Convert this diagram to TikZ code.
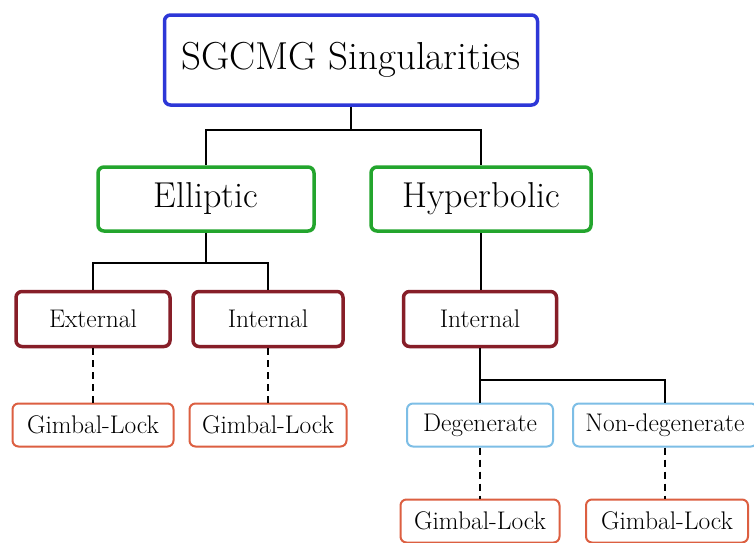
\documentclass[tikz,border=0pt]{standalone}
\usepackage{tikz}
\usetikzlibrary{calc}
\definecolor{rootblue}{RGB}{45,55,215}
\definecolor{typegreen}{RGB}{35,165,45}
\definecolor{kindred}{RGB}{135,30,40}
\definecolor{subblue}{RGB}{125,190,230}
\definecolor{lockred}{RGB}{220,95,65}
\tikzset{
  rootbox/.style={rectangle, rounded corners=6pt, draw=rootblue, line width=3.5pt, fill=white, minimum width=373pt, minimum height=90pt, font=\fontsize{39}{44}\selectfont},
  typebox/.style={rectangle, rounded corners=6pt, draw=typegreen, line width=3.5pt, fill=white, minimum height=64pt, font=\fontsize{36}{40}\selectfont},
  kindbox/.style={rectangle, rounded corners=6pt, draw=kindred, line width=3.5pt, fill=white, minimum height=55pt, font=\fontsize{25.5}{30}\selectfont},
  subbox/.style={rectangle, rounded corners=6pt, draw=subblue, line width=2pt, fill=white, minimum height=43pt, font=\fontsize{25.5}{30}\selectfont},
  lockbox/.style={rectangle, rounded corners=6pt, draw=lockred, line width=2pt, fill=white, minimum height=43pt, font=\fontsize{25.5}{30}\selectfont},
  connect/.style={draw=black, line width=2.2pt},
  dashconnect/.style={draw=black, line width=2.2pt, dash pattern=on 7pt off 5pt}
}
\begin{document}
\begin{tikzpicture}[x=1pt,y=-1pt]
  \clip (0,0) rectangle (754,542);
  \fill[white] (0,0) rectangle (754,542);

  \node[rootbox] (root) at (351,60) {SGCMG Singularities};

  \node[typebox, minimum width=216pt] (ell) at (206,199) {Elliptic};
  \node[typebox, minimum width=220pt] (hyp) at (481,199) {Hyperbolic};

  \node[kindbox, minimum width=154pt] (ext) at (93,319) {External};
  \node[kindbox, minimum width=150pt] (intl) at (268,319) {Internal};
  \node[kindbox, minimum width=153pt] (intr) at (480,319) {Internal};

  \node[subbox, minimum width=146pt] (deg) at (480,425) {Degenerate};
  \node[subbox, minimum width=184pt, inner sep=0pt] (ndeg) at (665,425) {Non-degenerate};

  \node[lockbox, minimum width=161pt] (lock1) at (93,425) {Gimbal-Lock};
  \node[lockbox, minimum width=157pt] (lock2) at (268,425) {Gimbal-Lock};
  \node[lockbox, minimum width=159pt] (lock3) at (480,521) {Gimbal-Lock};
  \node[lockbox, minimum width=162pt] (lock4) at (667,521) {Gimbal-Lock};

  % tree
  \draw[connect] (root.south) -- ++(0,23) -| (ell.north);
  \draw[connect] (root.south) -- ++(0,23) -| (hyp.north);
  \draw[connect] (ell.south) -- ++(0,30) -| (ext.north);
  \draw[connect] (ell.south) -- ++(0,30) -| (intl.north);
  \draw[connect] (hyp.south) -- (hyp.south |- intr.north);
  \draw[connect] (intr.south) -- ++(0,32) -| (deg.north);
  \draw[connect] (intr.south) -- ++(0,32) -| (ndeg.north);

  % leaves
  \draw[dashconnect] (ext.south) -- (lock1.north);
  \draw[dashconnect] (intl.south) -- (lock2.north);
  \draw[dashconnect] (deg.south) -- (lock3.north);
  \draw[dashconnect] (ndeg.south) -- (ndeg.south |- lock4.north);
\end{tikzpicture}
\end{document}
